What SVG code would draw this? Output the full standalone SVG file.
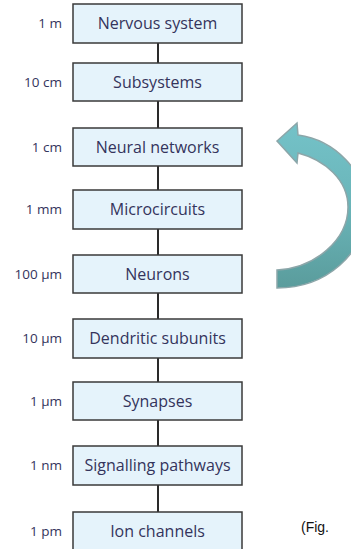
<svg xmlns="http://www.w3.org/2000/svg" width="351" height="549" viewBox="0 0 351 549">
<defs>
<linearGradient id="ag" x1="0" y1="0" x2="0" y2="1">
<stop offset="0" stop-color="#74c2c8"/>
<stop offset="0.5" stop-color="#6ab5b9"/>
<stop offset="1" stop-color="#5a9c9c"/>
</linearGradient>
</defs>
<style>
.box{fill:#e5f3fb;stroke:#3a3a3a;stroke-width:1.5}
.t{font-family:"Open Sans","DejaVu Sans",sans-serif;font-size:16px;fill:#34345c;text-anchor:middle}
.l{font-family:"Open Sans","DejaVu Sans",sans-serif;font-size:13.5px;fill:#34345c;text-anchor:end}
.c{stroke:#2a2a2a;stroke-width:2;fill:none}
</style>
<rect width="351" height="549" fill="#ffffff"/>
<g id="connectors">
<line class="c" x1="158" y1="43" x2="158" y2="63"/>
<line class="c" x1="158" y1="101" x2="158" y2="128"/>
<line class="c" x1="158" y1="166" x2="158" y2="190"/>
<line class="c" x1="158" y1="229" x2="158" y2="255"/>
<line class="c" x1="158" y1="293" x2="158" y2="319"/>
<line class="c" x1="158" y1="358" x2="158" y2="382"/>
<line class="c" x1="158" y1="420" x2="158" y2="446"/>
<line class="c" x1="158" y1="485" x2="158" y2="512"/>
</g>
<g id="n1"><rect class="box" x="73" y="4" width="169" height="39"/><text class="t" x="157.5" y="29">Nervous system</text><text class="l" x="62" y="28">1 m</text></g>
<g id="n2"><rect class="box" x="73" y="63" width="169" height="38"/><text class="t" x="157.5" y="87.5">Subsystems</text><text class="l" x="62" y="86.5">10 cm</text></g>
<g id="n3"><rect class="box" x="73" y="128" width="169" height="38"/><text class="t" x="157.5" y="152.5">Neural networks</text><text class="l" x="62" y="151.5">1 cm</text></g>
<g id="n4"><rect class="box" x="73" y="190" width="169" height="39"/><text class="t" x="157.5" y="215">Microcircuits</text><text class="l" x="62" y="214">1 mm</text></g>
<g id="n5"><rect class="box" x="73" y="255" width="169" height="38"/><text class="t" x="157.5" y="279.5">Neurons</text><text class="l" x="62" y="278.5">100 µm</text></g>
<g id="n6"><rect class="box" x="73" y="319" width="169" height="39"/><text class="t" x="157.5" y="344">Dendritic subunits</text><text class="l" x="62" y="343">10 µm</text></g>
<g id="n7"><rect class="box" x="73" y="382" width="169" height="38"/><text class="t" x="157.5" y="406.5">Synapses</text><text class="l" x="62" y="405.5">1 µm</text></g>
<g id="n8"><rect class="box" x="73" y="446" width="169" height="39"/><text class="t" x="157.5" y="471">Signalling pathways</text><text class="l" x="62" y="470">1 nm</text></g>
<g id="n9"><rect class="box" x="73" y="512" width="169" height="40"/><text class="t" x="157.5" y="537">Ion channels</text><text class="l" x="62" y="536">1 pm</text></g>
<g id="arrow">
<path d="M277,141 L297,123 L298,135 C335,140 366,172 366,207 C366,255 325,288 277,288 L277,270 C315,268 348,240 348,207 C348,180 325,160 298,153 L297,163 Z" fill="url(#ag)" stroke="#8ca6a9" stroke-width="1.5" stroke-linejoin="miter"/>
</g>
<text x="301" y="532" font-family="Liberation Sans, Arial, sans-serif" font-size="14" fill="#111">(Fig.</text>
</svg>
